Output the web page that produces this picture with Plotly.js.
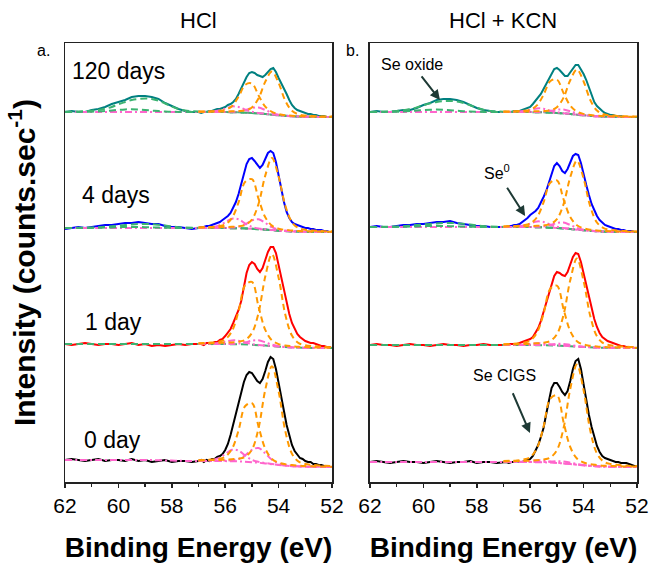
<!DOCTYPE html>
<html><head><meta charset="utf-8">
<script src="https://cdn.plot.ly/plotly-3.0.1.min.js"></script>
<style>html,body{margin:0;padding:0;background:#fff;} #chart{width:652px;height:565px;}</style>
</head><body><div id="chart"></div>
<script>
// Binding energy grids (eV)
const energy = [62,61.75,61.5,61.25,61,60.75,60.5,60.25,60,59.75,59.5,59.25,59,58.75,58.5,58.25,58,57.75,57.5,57.25,
  57,56.9,56.8,56.7,56.6,56.5,56.4,56.3,56.2,56.1,56,55.9,55.8,55.7,55.6,55.5,55.4,55.3,55.2,55.1,
  55,54.9,54.8,54.7,54.6,54.5,54.4,54.3,54.2,54.1,54,53.9,53.8,53.7,53.6,53.5,53.4,53.3,53.2,53.1,
  53,52.9,52.8,52.7,52.6,52.5,52.4,52.3,52.2,52.1,52];
const compEnergy = [57,56.75,56.5,56.25,56,55.75,55.5,55.25,55,54.75,54.5,54.25,54,53.75,53.5,53.25,53,52.75,52.5,52.25,52];
const bgEnergy = [62,61.5,61,60.75,60.5,60.25,60,59.75,59.5,59.25,59,58.75,58.5,58.25,58,57.75,57.5,57,56.5,56,55.5,55,54.5,54,53.5,53,52.5,52];

const rowLabels = ["0 day","1 day","4 days","120 days"];
const rowOffsets = [15,134,250,365];
const rowColors = ["#000000","#FF0000","#0000FF","#008080"];

// ---- HCl panel: measured spectra (counts, arbitrary units) ----
const hcl_0d = [7,8,7,6,7,8,6,7,7,6,8,6,7,5,6,7,5,6,6,5,
  6,7,5,7,6,8,8,10,11,13,17,23,32,43,55,66,76,85,92,95,94,90,86,84,88,96,105,110,108,98,
  85,70,56,42,31,22,16,12,9,8,6,5,5,3,3,2,2,1,1,0,0];
const hcl_1d = [4,3,4,5,4,3,4,4,3,4,5,3,4,2,3,2,3,4,3,4,
  4,4,3,5,5,4,6,6,8,9,12,15,19,25,31,38,47,62,75,83,86,84,79,76,80,88,96,101,101,95,
  83,69,56,45,34,25,19,14,11,9,7,6,5,5,4,3,2,2,1,1,0];
const hcl_4d = [3,4,5,4,5,6,7,7,8,9,9,10,9,8,8,6,5,5,4,3,
  4,5,5,6,6,7,8,9,10,12,14,16,19,24,30,38,48,59,68,73,74,71,67,64,67,73,79,81,79,70,
  56,42,30,20,14,10,8,7,6,5,4,4,3,3,2,2,2,1,1,0,0];
const hcl_120d = [5,6,5,5,7,8,10,13,15,17,20,21,21,20,18,14,11,8,6,5,
  5,4,5,5,6,6,7,8,8,9,10,12,13,15,18,23,29,35,40,44,45,44,42,41,40,42,45,48,49,45,
  39,34,29,23,17,12,9,7,6,5,4,3,3,2,2,1,1,1,0,0,0];

// ---- HCl + KCN panel: measured spectra ----
const kcn_0d = [5,6,5,4,5,6,5,5,4,5,6,5,4,5,5,6,4,5,5,4,
  5,5,4,5,5,6,5,5,6,7,8,11,16,22,30,39,53,68,79,84,84,80,75,72,76,86,98,106,108,98,
  82,66,52,40,29,21,15,11,9,8,7,6,5,5,4,4,4,3,2,1,1];
const kcn_1d = [3,4,3,3,2,3,4,3,3,2,3,4,3,3,2,3,3,4,3,3,
  3,3,4,4,4,4,5,6,7,8,9,11,15,20,27,36,46,55,64,72,76,75,73,72,76,84,91,95,94,86,
  75,62,50,39,29,21,15,11,9,7,6,5,4,3,2,2,1,1,1,0,0];
const kcn_4d = [5,6,5,5,6,7,7,8,8,9,10,10,11,9,8,7,6,6,5,5,
  5,5,6,6,7,7,8,10,12,14,17,19,21,24,29,35,41,50,59,66,69,66,61,59,63,70,76,78,77,69,
  57,47,37,28,22,16,12,9,7,6,5,4,3,3,2,2,1,1,1,0,0];
const kcn_120d = [5,6,5,5,6,7,7,9,12,14,17,18,18,17,15,12,9,7,6,5,
  5,5,5,5,6,6,6,7,8,9,10,13,16,19,23,28,33,39,44,48,49,47,44,41,41,45,49,52,52,48,
  43,37,30,22,15,11,8,6,4,3,2,2,1,1,1,0,0,0,0,0,0];

// ---- Fitted components (incl. background), HCl ----
const hcl_0d_cigs32 = [6.7,7.1,7.4,8.1,10.3,17.9,36.6,61,63.9,40.3,18.4,8.1,4.4,2.8,1.9,1.3,0.9,0.7,0.5,0.5,0.3];
const hcl_0d_cigs52 = [6.6,6.7,6.9,7,7.4,7.8,8.3,10.2,17.3,38.9,77.1,100.8,75.5,36,13.3,5.4,3,2.2,1.6,1.2,0.9];
const hcl_0d_se0_32 = [6.3,6.5,7,8.8,12.9,17.2,16.4,11.3,7.1,5.1,4,3.1,2.2,1.4,0.9,0.6,0.4,0.3,0.2,0.2,0.1];
const hcl_0d_se0_52 = [6.1,6.2,6.2,6.2,6.4,6.7,8,11.7,17.2,19,13.6,7.2,3.6,2,1.2,0.8,0.5,0.4,0.2,0.2,0.1];
const hcl_1d_cigs32 = [4.8,5.1,5.5,6.3,8.6,16.7,36.7,62.8,66.1,41.2,18.2,7.6,3.9,2.5,1.8,1.2,0.9,0.6,0.6,0.4,0.3];
const hcl_1d_cigs52 = [4.6,4.6,4.8,5,5.3,5.6,6.3,8.1,15,35.4,71.4,93.9,70.3,33.5,12.4,4.9,2.8,1.9,1.5,1,0.8];
const hcl_1d_se0_32 = [4.1,4.2,4.3,5,6.2,7.6,7.3,5.5,4,3.1,2.5,2,1.4,0.9,0.6,0.3,0.2,0.1,0.1,0,0];
const hcl_1d_se0_52 = [4,4.1,4.1,4.1,4.1,4.1,4.5,5.6,7.3,7.7,5.7,3.4,1.8,1.1,0.7,0.4,0.3,0.2,0.1,0,0];
const hcl_4d_cigs32 = [4.6,4.9,5.1,5.8,7.6,13.9,29.7,50.2,52.8,33.1,14.8,6.4,3.3,2.1,1.5,1,0.7,0.5,0.5,0.3,0.3];
const hcl_4d_cigs52 = [4.4,4.5,4.6,4.8,5,5.2,5.7,7.1,12.4,28.3,56.4,73.9,55.3,26.4,9.8,3.9,2.2,1.5,1.2,0.8,0.6];
const hcl_4d_se0_32 = [4.2,4.4,4.9,6.4,9.7,13.3,12.7,8.5,5.2,3.5,2.8,2.1,1.5,1,0.7,0.4,0.3,0.2,0.2,0.1,0.1];
const hcl_4d_se0_52 = [4.1,4.1,4.2,4.2,4.2,4.4,5.3,7.7,11.5,12.7,9.1,4.8,2.3,1.4,0.9,0.5,0.3,0.2,0.2,0.1,0.1];
const hcl_120d_cigs32 = [5.4,5.5,5.7,6.1,7.1,10.8,20.2,32.2,33.5,21.5,10.4,5.1,2.9,1.8,1.3,0.8,0.6,0.4,0.3,0.2,0.2];
const hcl_120d_cigs52 = [5.3,5.3,5.4,5.5,5.5,5.7,5.9,6.6,9.5,18.7,35.3,45.4,34,16.3,6.2,2.6,1.5,1.1,0.7,0.5,0.4];
const hcl_120d_se0_32 = [5.1,5.2,5.5,6.4,8.4,10.5,10.1,7.4,5.2,3.9,3.2,2.5,1.8,1.2,0.8,0.4,0.3,0.2,0.1,0,0];
const hcl_120d_se0_52 = [5.1,5.1,5.1,5.1,5.1,5.2,5.6,6.9,9,9.4,7,4.2,2.3,1.4,0.9,0.5,0.4,0.3,0.1,0,0];

// ---- Fitted components (incl. background), HCl + KCN ----
const kcn_0d_cigs32 = [5.9,6.2,6.6,7.5,9.9,18.6,40.2,68.2,71.7,44.8,20,8.5,4.5,2.8,2,1.3,1,0.8,0.6,0.4,0.4];
const kcn_0d_cigs52 = [5.6,5.7,5.9,6.1,6.4,6.8,7.5,9.4,16.8,38.9,78,102.4,76.7,36.5,13.5,5.4,3.1,2.2,1.6,1.1,0.9];
const kcn_0d_se0_32 = [5,5.1,5.2,5.5,6.1,6.7,6.5,5.4,4.4,3.6,3.1,2.4,1.7,1.1,0.7,0.4,0.3,0.2,0.1,0,0];
const kcn_0d_se0_52 = [5,5,5,5,5,4.9,5,5.2,5.7,5.5,4.3,3,1.9,1.2,0.8,0.4,0.3,0.2,0.1,0,0];
const kcn_1d_cigs32 = [3.8,4.1,4.4,5.2,7.4,15.2,34.3,59.2,62.4,38.8,16.9,6.8,3.5,2.2,1.5,1,0.8,0.6,0.5,0.4,0.3];
const kcn_1d_cigs52 = [3.5,3.6,3.8,4,4.2,4.7,5.3,7,13.7,33.3,67.8,89.4,67,31.9,11.7,4.6,2.7,1.9,1.4,1,0.8];
const kcn_1d_se0_32 = [3,3.1,3.2,3.5,4.1,4.8,4.6,3.6,2.8,2.2,1.9,1.4,1,0.7,0.4,0.2,0.2,0.1,0.1,0,0];
const kcn_1d_se0_52 = [3,3,3,3,3,3,3.1,3.4,4.1,4.1,3.1,2,1.2,0.8,0.5,0.2,0.2,0.1,0.1,0,0];
const kcn_4d_cigs32 = [5.6,5.9,6.1,6.8,8.5,14.6,29.7,49.3,51.7,32.6,15,6.7,3.7,2.3,1.6,1.1,0.8,0.6,0.5,0.3,0.3];
const kcn_4d_cigs52 = [5.4,5.5,5.6,5.8,5.9,6.2,6.6,7.9,12.8,27.9,54.8,71.4,53.5,25.5,9.5,3.9,2.2,1.6,1.1,0.8,0.6];
const kcn_4d_se0_32 = [5.1,5.2,5.5,6.4,8.4,10.5,10.1,7.4,5.2,3.9,3.2,2.5,1.8,1.2,0.8,0.4,0.3,0.2,0.1,0,0];
const kcn_4d_se0_52 = [5.1,5.1,5.1,5.1,5.1,5.2,5.6,6.9,9,9.4,7,4.2,2.3,1.4,0.9,0.5,0.4,0.3,0.1,0,0];
const kcn_120d_cigs32 = [5.4,5.6,5.8,6.2,7.4,11.6,22.2,35.8,37.4,23.9,11.4,5.4,3.1,1.9,1.3,0.9,0.7,0.5,0.3,0.2,0.2];
const kcn_120d_cigs52 = [5.3,5.3,5.4,5.5,5.6,5.7,6,6.7,9.8,19.4,36.8,47.4,35.5,17,6.5,2.7,1.6,1.1,0.8,0.5,0.4];
const kcn_120d_se0_32 = [5.1,5.2,5.3,6,7.2,8.6,8.3,6.4,4.8,3.8,3.1,2.5,1.8,1.2,0.7,0.4,0.3,0.2,0.1,0,0];
const kcn_120d_se0_52 = [5,5,5.1,5.1,5,5,5.3,6.1,7.3,7.5,5.7,3.6,2.1,1.3,0.8,0.5,0.4,0.3,0.1,0,0];

// ---- Backgrounds and Se oxide components (on bgEnergy) ----
const hcl_0d_bg = [7,7,7,7,7,7,7,7,7,7,7,6.9,6.8,6.6,6.4,6.2,6.1,6,6,5.9,5.6,4.8,3.6,2,0.8,0.3,0.1,0];
const hcl_1d_bg = [4,4,4,4,4,4,4,4,4,4,4,4,4,4,4,4,4,4,4,3.9,3.7,3.2,2.4,1.3,0.6,0.2,0.1,0];
const hcl_4d_bg = [4,4,4,4,4,4,4,4,4,4,4,4,4,4,4,4,4,4,4,3.9,3.7,3.2,2.4,1.3,0.6,0.2,0.1,0];
const hcl_120d_bg = [5,5,5,5,5,5,5,5,5,5,5,5,5,5,5,5,5,5,5,4.9,4.7,4,3,1.7,0.7,0.3,0.1,0];
const kcn_0d_bg = [5,5,5,5,5,5,5,5,5,5,5,5,5,5,5,5,5,5,5,4.9,4.7,4,3,1.7,0.7,0.3,0.1,0];
const kcn_1d_bg = [3,3,3,3,3,3,3,3,3,3,3,3,3,3,3,3,3,3,3,2.9,2.8,2.4,1.8,1,0.4,0.2,0.1,0];
const kcn_4d_bg = [5,5,5,5,5,5,5,5,5,5,5,5,5,5,5,5,5,5,5,4.9,4.7,4,3,1.7,0.7,0.3,0.1,0];
const kcn_120d_bg = [5,5,5,5,5,5,5,5,5,5,5,5,5,5,5,5,5,5,5,4.9,4.7,4,3,1.7,0.7,0.3,0.1,0];
const hcl_4d_ox1 = [4,4.2,4.5,4.8,5.2,5.7,6.3,6.9,7.5,7.9,8,7.8,7.2,6.4,5.5,4.8,4.4,4.1,4,3.9,3.7,3.2,2.4,1.3,0.6,0.2,0.1,0];
const hcl_4d_ox2 = [4,4,4.1,4.2,4.4,4.6,4.8,5,5.1,5,4.8,4.6,4.4,4.2,4.1,4,4,4,4,3.9,3.7,3.2,2.4,1.3,0.6,0.2,0.1,0];
const hcl_120d_ox1 = [5.2,5.5,6.2,7,8.3,10,12.8,15,17,18,18.5,18,16.3,13.5,10.5,8,6.5,5.4,5.1,4.9,4.7,4,3,1.7,0.7,0.3,0.1,0];
const hcl_120d_ox2 = [5,5.1,5.3,5.6,6,6.6,7.2,7.6,7.8,7.5,7,6.4,5.9,5.5,5.2,5.1,5,5,5,4.9,4.7,4,3,1.7,0.7,0.3,0.1,0];
const kcn_4d_ox1 = [5,5.2,5.5,5.8,6.3,6.9,7.5,8.1,8.6,8.9,9,8.8,8.2,7.4,6.6,5.9,5.4,5.1,5,4.9,4.7,4,3,1.7,0.7,0.3,0.1,0];
const kcn_4d_ox2 = [5,5,5.1,5.2,5.4,5.6,5.8,6,6.1,6,5.8,5.6,5.4,5.2,5.1,5,5,5,5,4.9,4.7,4,3,1.7,0.7,0.3,0.1,0];
const kcn_120d_ox1 = [5.1,5.4,6,6.8,8,9.6,11.8,13.6,15,15.8,16,15.5,14,11.8,9.3,7.3,6.1,5.3,5.1,4.9,4.7,4,3,1.7,0.7,0.3,0.1,0];
const kcn_120d_ox2 = [5,5.1,5.3,5.5,5.9,6.4,6.9,7.3,7.4,7.2,6.8,6.3,5.8,5.4,5.2,5.1,5,5,5,4.9,4.7,4,3,1.7,0.7,0.3,0.1,0];

const panels = [
  {xa:'x', ya:'y', rows:[
    {spec:hcl_0d, c32:hcl_0d_cigs32, c52:hcl_0d_cigs52, s32:hcl_0d_se0_32, s52:hcl_0d_se0_52, bg:hcl_0d_bg, bgGreen:false, ox:[]},
    {spec:hcl_1d, c32:hcl_1d_cigs32, c52:hcl_1d_cigs52, s32:hcl_1d_se0_32, s52:hcl_1d_se0_52, bg:hcl_1d_bg, bgGreen:true, ox:[]},
    {spec:hcl_4d, c32:hcl_4d_cigs32, c52:hcl_4d_cigs52, s32:hcl_4d_se0_32, s52:hcl_4d_se0_52, bg:hcl_4d_bg, bgGreen:false, ox:[hcl_4d_ox1,hcl_4d_ox2]},
    {spec:hcl_120d, c32:hcl_120d_cigs32, c52:hcl_120d_cigs52, s32:hcl_120d_se0_32, s52:hcl_120d_se0_52, bg:hcl_120d_bg, bgGreen:false, ox:[hcl_120d_ox1,hcl_120d_ox2]}
  ]},
  {xa:'x2', ya:'y2', rows:[
    {spec:kcn_0d, c32:kcn_0d_cigs32, c52:kcn_0d_cigs52, s32:kcn_0d_se0_32, s52:kcn_0d_se0_52, bg:kcn_0d_bg, bgGreen:false, ox:[]},
    {spec:kcn_1d, c32:kcn_1d_cigs32, c52:kcn_1d_cigs52, s32:kcn_1d_se0_32, s52:kcn_1d_se0_52, bg:kcn_1d_bg, bgGreen:true, ox:[]},
    {spec:kcn_4d, c32:kcn_4d_cigs32, c52:kcn_4d_cigs52, s32:kcn_4d_se0_32, s52:kcn_4d_se0_52, bg:kcn_4d_bg, bgGreen:false, ox:[kcn_4d_ox1,kcn_4d_ox2]},
    {spec:kcn_120d, c32:kcn_120d_cigs32, c52:kcn_120d_cigs52, s32:kcn_120d_se0_32, s52:kcn_120d_se0_52, bg:kcn_120d_bg, bgGreen:false, ox:[kcn_120d_ox1,kcn_120d_ox2]}
  ]}
];

const ORANGE = '#FF9900', PINK = '#FF66CC', GREEN = '#3CB371';
const traces = [];
function shift(arr, off){ return arr.map(v => v + off); }
panels.forEach(p => {
  p.rows.forEach((r, i) => {
    const off = rowOffsets[i];
    traces.push({x:energy, y:shift(r.spec, off), xaxis:p.xa, yaxis:p.ya, mode:'lines',
      line:{color:rowColors[i], width:2}, name:rowLabels[i], hoverinfo:'skip'});
    traces.push({x:bgEnergy, y:shift(r.bg, off), xaxis:p.xa, yaxis:p.ya, mode:'lines',
      line:{color: r.bgGreen ? GREEN : PINK, width:2, dash: r.bgGreen ? '7px,4px' : '7px,3px,2px,3px', shape:'spline'}, hoverinfo:'skip'});
    r.ox.forEach(o => traces.push({x:bgEnergy, y:shift(o, off), xaxis:p.xa, yaxis:p.ya, mode:'lines',
      line:{color:GREEN, width:2, dash:'7px,4px', shape:'spline'}, hoverinfo:'skip'}));
    [r.s32, r.s52].forEach(s => traces.push({x:compEnergy, y:shift(s, off), xaxis:p.xa, yaxis:p.ya, mode:'lines',
      line:{color:PINK, width:2, dash:'7px,3px,2px,3px', shape:'spline'}, hoverinfo:'skip'}));
    [r.c32, r.c52].forEach(s => traces.push({x:compEnergy, y:shift(s, off), xaxis:p.xa, yaxis:p.ya, mode:'lines',
      line:{color:ORANGE, width:2, dash:'6px,4px', shape:'spline'}, hoverinfo:'skip'}));
  });
});

const FONT = 'Arial, "Liberation Sans", sans-serif';
function xAxis(domain, anchor){
  return {domain:domain, anchor:anchor, range:[62,52], tick0:52, dtick:2, ticks:'outside', ticklen:4, tickwidth:1.5,
    tickcolor:'#222', minor:{dtick:1, ticks:'outside', ticklen:3, tickwidth:1.5, tickcolor:'#222'},
    showline:true, mirror:true, linecolor:'#222', linewidth:1.5, showgrid:false, zeroline:false,
    tickfont:{family:FONT, size:21, color:'#000'}, automargin:false,
    title:{text:'<b>Binding Energy (eV)</b>', font:{family:FONT, size:28, color:'#000'}, standoff:21}};
}
function xInside(over, anchor){
  return {overlaying:over, anchor:anchor, range:[62,52], tick0:52, dtick:2, ticks:'inside', ticklen:4, tickwidth:1.5,
    tickcolor:'#222', minor:{dtick:1, ticks:'inside', ticklen:3, tickwidth:1.5, tickcolor:'#222'},
    showticklabels:false, showline:false, showgrid:false, zeroline:false, side:'bottom'};
}
function yAxis(anchor, title){
  const a = {domain:[0,1], anchor:anchor, range:[0,439], showticklabels:false, ticks:'', showline:true, mirror:true,
    linecolor:'#222', linewidth:1.5, showgrid:false, zeroline:false, automargin:false};
  if (title) a.title = {text:'<b>Intensity (counts.sec<sup>-1</sup>)</b>', font:{family:FONT, size:30, color:'#000'}, standoff:19};
  return a;
}

const annotations = [];
const rowLabelPos = [[61.37,42],[61.34,160],[61.44,287],[61.81,411]];
rowLabels.forEach((t,i) => annotations.push({xref:'x', yref:'y', x:rowLabelPos[i][0], y:rowLabelPos[i][1],
  text:t, showarrow:false, xanchor:'left', yanchor:'middle', font:{family:FONT, size:23, color:'#000'}}));
annotations.push({xref:'x domain', yref:'paper', x:0.5, y:1.052, text:'HCl', showarrow:false, xanchor:'center', yanchor:'middle',
  font:{family:FONT, size:22, color:'#000'}});
annotations.push({xref:'x2 domain', yref:'paper', x:0.5, y:1.052, text:'HCl + KCN', showarrow:false, xanchor:'center', yanchor:'middle',
  font:{family:FONT, size:22, color:'#000'}});
annotations.push({xref:'paper', yref:'paper', x:-0.037, y:0.984, text:'a.', showarrow:false, xanchor:'center', yanchor:'middle',
  font:{family:FONT, size:16, color:'#000'}});
annotations.push({xref:'paper', yref:'paper', x:0.502, y:0.984, text:'b.', showarrow:false, xanchor:'center', yanchor:'middle',
  font:{family:FONT, size:16, color:'#000'}});
// peak labels with arrows (panel b)
const ARROW = '#1e3a35';
const peakLabels = [
  {text:'Se oxide', tip:[59.38,382], off:[-28,-36], gap:3},
  {text:'Se<sup>0</sup>', tip:[56.19,266], off:[-28,-44], gap:5},
  {text:'Se CIGS', tip:[56.01,49], off:[-25,-58], gap:9}
];
peakLabels.forEach(l => annotations.push({xref:'x2', yref:'y2', x:l.tip[0], y:l.tip[1], ax:l.off[0], ay:l.off[1],
  text:l.text, showarrow:true, arrowhead:2, arrowsize:1, arrowwidth:2, arrowcolor:ARROW, standoff:0, startstandoff:l.gap,
  font:{family:FONT, size:16, color:'#000'}}));

const layout = {
  width:652, height:565, margin:{l:65, r:15, t:43, b:83},
  paper_bgcolor:'#fff', plot_bgcolor:'#fff', showlegend:false,
  font:{family:FONT, color:'#000'},
  xaxis: xAxis([0,0.4668],'y'),
  xaxis2: xAxis([0.5332,1],'y2'),
  xaxis3: xInside('x','y'),
  xaxis4: xInside('x2','y2'),
  yaxis: yAxis('x', true),
  yaxis2: yAxis('x2', false),
  annotations: annotations
};
Plotly.newPlot('chart', traces, layout, {staticPlot:true, displayModeBar:false});
</script></body></html>
